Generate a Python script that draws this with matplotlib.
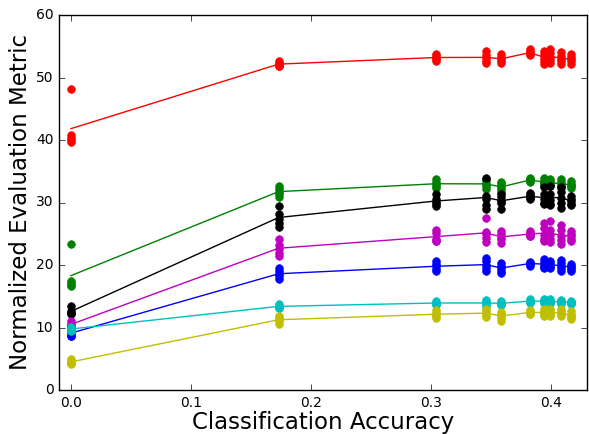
import numpy as np
import matplotlib
matplotlib.use("Agg")
import matplotlib.pyplot as plt

plt.style.use("classic")

# classification accuracy of each run group
acc = [0.0, 0.173, 0.304, 0.3455, 0.3587, 0.3824, 0.394, 0.3995, 0.408, 0.4165]

# five repeats per accuracy value, one list per metric
red = [
    [48.2, 40.8, 40.4, 40.0, 39.7],
    [52.6, 52.3, 52.1, 51.9, 51.8],
    [53.8, 53.5, 53.2, 52.9, 52.6],
    [54.3, 53.6, 53.1, 52.7, 52.4],
    [53.8, 53.3, 52.9, 52.6, 52.4],
    [54.5, 54.2, 53.9, 53.7, 53.6],
    [54.3, 53.8, 53.2, 52.7, 52.2],
    [54.5, 54.0, 53.3, 52.8, 52.4],
    [54.1, 53.5, 53.0, 52.6, 52.2],
    [53.8, 53.3, 52.9, 52.6, 52.2],
]
green = [
    [23.4, 17.4, 17.2, 16.8, 16.7],
    [32.7, 32.1, 31.7, 31.3, 30.9],
    [33.7, 33.3, 33.0, 32.7, 32.3],
    [33.8, 33.4, 33.0, 32.6, 32.1],
    [33.3, 32.9, 32.5, 32.1, 31.7],
    [34.0, 33.8, 33.6, 33.4, 33.2],
    [33.9, 33.5, 33.2, 33.0, 32.8],
    [33.8, 33.4, 33.1, 32.9, 32.6],
    [33.7, 33.3, 33.0, 32.7, 32.4],
    [33.4, 33.0, 32.8, 32.6, 32.3],
]
black = [
    [13.4, 12.6, 12.4, 12.2, 12.3],
    [29.5, 28.2, 27.4, 26.8, 26.1],
    [31.4, 30.6, 30.1, 29.7, 29.4],
    [34.0, 31.0, 30.5, 29.6, 28.9],
    [31.4, 30.9, 30.3, 29.9, 28.9],
    [31.6, 31.2, 30.9, 30.7, 30.6],
    [32.5, 31.3, 30.5, 29.9, 29.7],
    [32.7, 31.3, 30.4, 29.8, 29.6],
    [32.5, 31.7, 30.7, 29.9, 29.2],
    [31.0, 30.6, 30.2, 29.8, 29.6],
]
magenta = [
    [11.0, 10.6, 10.2, 10.3, 10.4],
    [24.1, 23.2, 22.6, 22.0, 21.5],
    [25.6, 25.2, 24.2, 23.9, 23.8],
    [27.5, 25.3, 24.9, 24.3, 23.7],
    [25.5, 25.0, 24.4, 24.1, 23.5],
    [25.5, 25.1, 24.9, 24.7, 24.6],
    [26.7, 25.9, 24.8, 24.2, 23.9],
    [27.0, 25.6, 24.8, 24.2, 23.7],
    [26.4, 25.6, 24.6, 24.0, 23.4],
    [25.4, 25.0, 24.6, 24.2, 23.8],
]
blue = [
    [9.8, 9.4, 9.0, 8.7, 8.6],
    [19.5, 19.0, 18.6, 18.2, 17.7],
    [20.6, 20.2, 19.8, 19.4, 19.0],
    [21.2, 20.6, 20.0, 19.5, 19.0],
    [20.3, 19.9, 19.5, 19.1, 18.8],
    [20.5, 20.4, 20.3, 20.1, 19.9],
    [21.0, 20.5, 20.0, 19.7, 19.5],
    [20.6, 20.3, 20.0, 19.7, 19.5],
    [20.8, 20.3, 19.9, 19.5, 19.1],
    [20.2, 19.9, 19.7, 19.4, 19.1],
]
cyan = [
    [10.1, 9.9, 9.7, 9.6, 9.5],
    [13.8, 13.5, 13.3, 13.2, 13.1],
    [14.3, 14.0, 13.9, 13.8, 13.6],
    [14.4, 14.1, 13.9, 13.7, 13.5],
    [14.3, 14.0, 13.8, 13.7, 13.6],
    [14.5, 14.3, 14.2, 14.1, 14.0],
    [14.5, 14.3, 14.2, 14.1, 13.9],
    [14.5, 14.3, 14.2, 14.0, 13.9],
    [14.4, 14.2, 14.1, 14.0, 13.8],
    [14.3, 14.1, 14.0, 13.9, 13.8],
]
yellow = [
    [5.0, 4.6, 4.4, 4.3, 4.2],
    [11.8, 11.5, 11.3, 11.0, 10.6],
    [12.8, 12.4, 12.1, 11.8, 11.5],
    [12.9, 12.6, 12.3, 12.0, 11.7],
    [12.5, 12.1, 11.9, 11.6, 11.1],
    [12.8, 12.6, 12.4, 12.2, 12.1],
    [13.0, 12.7, 12.4, 12.1, 11.8],
    [13.0, 12.7, 12.4, 12.1, 11.8],
    [12.9, 12.6, 12.3, 12.0, 11.8],
    [12.6, 12.2, 11.9, 11.7, 11.4],
]

series = [(red, "r"), (green, "g"), (black, "k"), (magenta, "m"),
          (blue, "b"), (cyan, "c"), (yellow, "y")]

fig = plt.figure(figsize=(5.89, 4.34), dpi=100, facecolor="white")
ax = fig.add_axes([59 / 589, 1 - 390 / 434, 528 / 589, 375 / 434])

for vals, col in series:
    vals = np.array(vals)
    for x, row in zip(acc, vals):
        ax.plot([x] * len(row), row, "o", color=col, mec=col, ms=5.5)
    # line through the mean of each group
    ax.plot(acc, vals.mean(axis=1), "-", color=col, lw=1)

ax.set_xlim(-0.01, 0.43)
ax.set_ylim(0, 60)
ax.set_xticks([0.0, 0.1, 0.2, 0.3, 0.4])
ax.set_yticks(range(0, 61, 10))
ax.tick_params(labelsize=10)
ax.set_xlabel("Classification Accuracy", fontsize=16.5, labelpad=1)
ax.set_ylabel("Normalized Evaluation Metric", fontsize=16.5, labelpad=3)

fig.savefig("out.png", dpi=100, facecolor="white")
